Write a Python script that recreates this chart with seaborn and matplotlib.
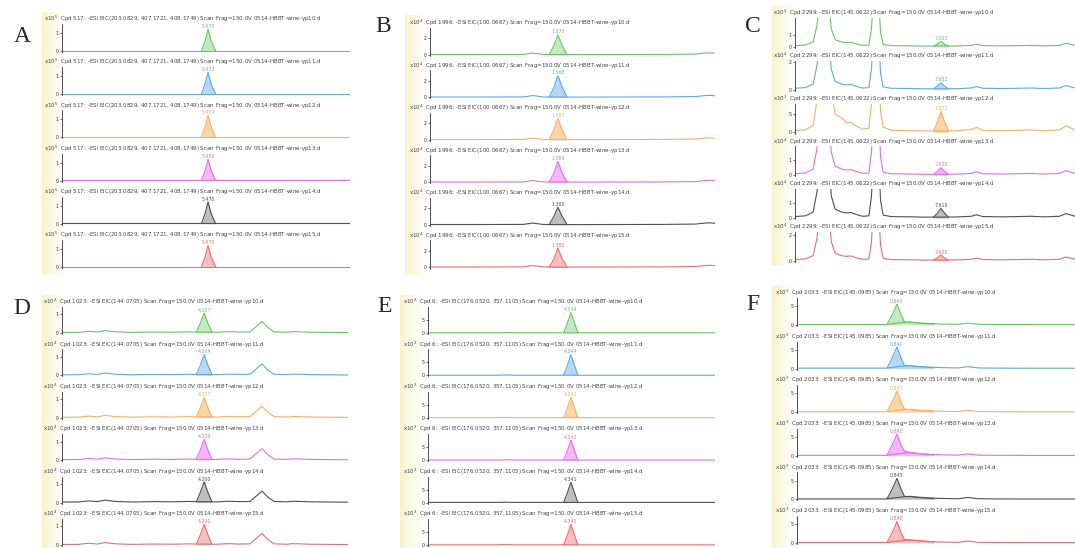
import numpy as np
import matplotlib.pyplot as plt
import seaborn as sns

# ---------------- data ----------------
samples = ["yp10", "yp11", "yp12", "yp13", "yp14", "yp15"]

# Panel A
A_title = "Cpd 517: -ESI EIC(203.0829, 407.1721, 408.1749) Scan Frag=150.0V 0514-HBBT-wine-{}.d"
A_exp = [5, 5, 5, 5, 5, 5]
A_xlim = (0.55, 10.25)
A_bg_x = [0.55, 3.0, 5.2, 5.8, 8.0, 10.25]
A_bg_y = [0.02, 0.02, 0.02, 0.02, 0.02, 0.02]
A_pk_x = [5.25, 5.37, 5.47, 5.57, 5.72]
A_pk_y = [[0.02, 0.57, 1.20, 0.57, 0.02],
          [0.02, 0.58, 1.22, 0.58, 0.02],
          [0.02, 0.59, 1.23, 0.59, 0.02],
          [0.02, 0.56, 1.18, 0.56, 0.02],
          [0.02, 0.58, 1.21, 0.58, 0.02],
          [0.02, 0.57, 1.20, 0.57, 0.02]]
A_ticks = [1, 1, 1, 1, 1, 1]
A_ytop = [1.5, 1.5, 1.5, 1.5, 1.5, 1.5]
A_labels = ["5.470", "5.472", "5.469", "5.469", "5.470", "5.470"]

# Panel B
B_title = "Cpd 1996: -ESI EIC(100.0667) Scan Frag=150.0V 0514-HBBT-wine-{}.d"
B_exp = [4, 4, 4, 4, 4, 4]
B_xlim = (0.0, 3.06)
B_bg_x = [0.0, 0.5, 1.0, 1.06, 1.10, 1.16, 1.22, 1.6, 2.0, 2.5, 2.85, 2.95, 3.0, 3.06]
B_bg_y = [0.05, 0.05, 0.06, 0.15, 0.22, 0.14, 0.05, 0.04, 0.05, 0.06, 0.10, 0.22, 0.25, 0.20]
B_pk_x = [1.28, 1.33, 1.373, 1.42, 1.47]
B_pk_y = [[0.05, 1.1, 2.40, 1.1, 0.05],
          [0.05, 1.2, 2.60, 1.2, 0.05],
          [0.05, 1.2, 2.55, 1.2, 0.05],
          [0.05, 1.1, 2.50, 1.1, 0.05],
          [0.05, 1.0, 2.10, 1.0, 0.05],
          [0.05, 1.0, 2.30, 1.0, 0.05]]
B_ticks = [2, 2, 2, 2, 2, 2]
B_ytop = [3.2, 3.2, 3.2, 3.2, 3.2, 3.2]
B_labels = ["1.373", "1.368", "1.367", "1.369", "1.380", "1.380"]

# Panel C
C_title = "Cpd 2299: -ESI EIC(145.0622) Scan Frag=150.0V 0514-HBBT-wine-{}.d"
C_exp = [4, 4, 3, 4, 4, 4]
C_xlim = (2.0, 12.8)
C_bg_x = [2.0, 2.4, 2.7, 2.85, 2.95, 3.12, 3.3, 3.4, 3.55, 3.8, 4.0, 4.15, 4.35, 4.6,
          4.85, 4.95, 5.05, 5.12, 5.2, 5.3, 5.4, 5.7, 6.5, 7.0, 8.2, 8.8, 9.0, 9.25,
          10.0, 10.6, 11.1, 11.6, 12.2, 12.45, 12.65, 12.8]
C_bg_y = [0.10, 0.15, 0.40, 1.8, 4.0, 12.0, 4.0, 1.5, 0.6, 0.40, 0.35, 0.38, 0.25, 0.12,
          0.15, 1.5, 5.0, 8.0, 5.0, 1.2, 0.20, 0.10, 0.08, 0.06, 0.07, 0.12, 0.22, 0.10,
          0.08, 0.10, 0.12, 0.08, 0.12, 0.30, 0.20, 0.12]
C_bg_y_yp12 = [0.5, 0.7, 2.0, 9.0, 20.0, 60.0, 20.0, 12.0, 5.0, 4.0, 2.6, 2.8, 1.8, 0.9,
               1.2, 8.0, 25.0, 40.0, 25.0, 6.0, 1.5, 0.6, 0.5, 0.4, 0.45, 0.8, 1.4, 0.6,
               0.5, 0.6, 0.7, 0.5, 0.7, 1.8, 1.2, 0.7]
C_pk_x = [7.34, 7.49, 7.63, 7.77, 7.92]
C_pk_y = [[0.06, 0.22, 0.45, 0.22, 0.06],
          [0.06, 0.25, 0.50, 0.25, 0.06],
          [0.40, 2.90, 5.80, 2.90, 0.40],
          [0.06, 0.25, 0.50, 0.25, 0.06],
          [0.06, 0.32, 0.65, 0.32, 0.06],
          [0.06, 0.22, 0.45, 0.22, 0.06]]
C_ticks = [1, 2, 5, 1, 1, 2]
C_ytop = [2.4, 2.1, 8.0, 1.9, 1.95, 2.25]
C_labels = ["7.633", "7.632", "7.622", "7.620", "7.619", "7.620"]

# Panel D
D_title = "Cpd 1023: -ESI EIC(144.0705) Scan Frag=150.0V 0514-HBBT-wine-{}.d"
D_exp = [4, 4, 4, 4, 4, 4]
D_xlim = (1.0, 7.45)
D_bg_x = [1.0, 1.35, 1.61, 1.8, 1.97, 2.2, 2.6, 3.0, 3.5, 3.85, 4.0, 4.5, 4.75, 5.0,
          5.24, 5.38, 5.51, 5.64, 5.78, 6.07, 6.2, 6.37, 6.6, 7.0, 7.45]
D_bg_y = [0.03, 0.03, 0.09, 0.05, 0.13, 0.06, 0.03, 0.05, 0.04, 0.06, 0.05, 0.04, 0.07, 0.05,
          0.06, 0.35, 0.62, 0.30, 0.06, 0.04, 0.07, 0.06, 0.04, 0.03, 0.02]
D_pk_x = [4.03, 4.12, 4.207, 4.29, 4.38]
D_pk_y = [[0.05, 0.53, 1.08, 0.53, 0.05],
          [0.05, 0.55, 1.12, 0.55, 0.05],
          [0.05, 0.54, 1.10, 0.54, 0.05],
          [0.05, 0.55, 1.12, 0.55, 0.05],
          [0.05, 0.55, 1.12, 0.55, 0.05],
          [0.05, 0.55, 1.12, 0.55, 0.05]]
D_ticks = [1, 1, 1, 1, 1, 1]
D_ytop = [1.4, 1.4, 1.4, 1.4, 1.4, 1.4]
D_labels = ["4.207", "4.204", "4.207", "4.209", "4.200", "4.200"]

# Panel E
E_title = "Cpd 6: -ESI EIC(176.0520, 357.1105) Scan Frag=150.0V 0514-HBBT-wine-{}.d"
E_exp = [3, 3, 3, 3, 3, 3]
E_xlim = (0.5, 8.22)
E_bg_x = [0.5, 2.4, 2.6, 2.8, 5.0, 8.22]
E_bg_y = [0.05, 0.05, 0.15, 0.05, 0.05, 0.05]
E_pk_x = [4.15, 4.25, 4.344, 4.44, 4.53]
E_pk_y = [[0.05, 3.8, 7.8, 3.8, 0.05],
          [0.05, 3.9, 8.0, 3.9, 0.05],
          [0.05, 3.8, 7.9, 3.8, 0.05],
          [0.05, 3.7, 7.7, 3.7, 0.05],
          [0.05, 3.8, 7.8, 3.8, 0.05],
          [0.05, 3.8, 7.9, 3.8, 0.05]]
E_ticks = [5, 5, 5, 5, 5, 5]
E_ytop = [10.0, 10.0, 10.0, 10.0, 10.0, 10.0]
E_labels = ["4.344", "4.344", "4.341", "4.342", "4.341", "4.341"]

# Panel F
F_title = "Cpd 2033: -ESI EIC(145.0985) Scan Frag=150.0V 0514-HBBT-wine-{}.d"
F_exp = [3, 3, 3, 3, 3, 3]
F_xlim = (0.0, 2.33)
F_bg_x = [0.0, 0.5, 0.74, 0.9, 0.95, 1.0, 1.1, 1.2, 1.35, 1.43, 1.52, 1.7, 2.0, 2.33]
F_bg_y = [0.1, 0.1, 0.1, 0.7, 0.8, 0.6, 0.4, 0.25, 0.15, 0.5, 0.15, 0.1, 0.08, 0.08]
F_pk_x = [0.754, 0.80, 0.838, 0.87, 0.90, 0.95, 1.05, 1.15]
F_pk_y = [[0.1, 2.9, 5.6, 2.9, 0.8, 0.7, 0.4, 0.2],
          [0.1, 3.0, 5.8, 3.0, 0.8, 0.7, 0.4, 0.2],
          [0.1, 2.9, 5.7, 2.9, 0.8, 0.6, 0.3, 0.2],
          [0.1, 3.0, 5.8, 3.0, 1.2, 0.9, 0.5, 0.2],
          [0.1, 2.9, 5.6, 2.9, 0.8, 0.7, 0.4, 0.2],
          [0.1, 2.9, 5.7, 2.9, 0.9, 0.8, 0.5, 0.2]]
F_ticks = [5, 5, 5, 5, 5, 5]
F_ytop = [7.2, 7.2, 7.2, 7.2, 7.2, 7.2]
F_labels = ["0.840", "0.840", "0.847", "0.840", "0.845", "0.840"]

# trace colours per sample
line_colors = ["#6cc26c", "#5fa8e6", "#f0b06a", "#e070e0", "#505050", "#e66e6e"]
fill_colors = ["#8fdc8a", "#7ab8f0", "#f7b35e", "#f07cf0", "#8c8c8c", "#f08a8a"]

# ---------------- layout (pixels) ----------------
W, H = 1075, 548
sns.set_theme(style="white")
plt.rcParams['font.family'] = ['DejaVu Sans']
fig = plt.figure(figsize=(W / 100, H / 100), dpi=100)


def px_axes(x0, y_top, w, h):
    return fig.add_axes([x0 / W, 1 - (y_top + h) / H, w / W, h / H])


panels = [
    dict(letter="A", lx=22, ly=36, hx=44, ax0=62, ax1=350, h1=19, off=32, pitch=43.2,
         strip=(42, 12, 275), title=A_title, exp=A_exp, xlim=A_xlim,
         bg_x=A_bg_x, bg_rows=[A_bg_y] * 6, pk_x=A_pk_x, pk_y=A_pk_y,
         ticks=A_ticks, ytop=A_ytop, labels=A_labels),
    dict(letter="B", lx=383, ly=27, hx=409, ax0=430, ax1=715, h1=23, off=32, pitch=42.5,
         strip=(405, 15, 275), title=B_title, exp=B_exp, xlim=B_xlim,
         bg_x=B_bg_x, bg_rows=[B_bg_y] * 6, pk_x=B_pk_x, pk_y=B_pk_y,
         ticks=B_ticks, ytop=B_ytop, labels=B_labels),
    dict(letter="C", lx=753, ly=27, hx=773, ax0=795, ax1=1075, h1=13, off=34, pitch=42.8,
         strip=(772, 5, 265), title=C_title, exp=C_exp, xlim=C_xlim,
         bg_x=C_bg_x, bg_rows=[C_bg_y, C_bg_y, C_bg_y_yp12, C_bg_y, C_bg_y, C_bg_y],
         pk_x=C_pk_x, pk_y=C_pk_y, ticks=C_ticks, ytop=C_ytop, labels=C_labels),
    dict(letter="D", lx=22, ly=308, hx=43, ax0=62, ax1=348, h1=302, off=31, pitch=42.4,
         strip=(42, 295, 548), title=D_title, exp=D_exp, xlim=D_xlim,
         bg_x=D_bg_x, bg_rows=[D_bg_y] * 6, pk_x=D_pk_x, pk_y=D_pk_y,
         ticks=D_ticks, ytop=D_ytop, labels=D_labels),
    dict(letter="E", lx=385, ly=307, hx=403, ax0=428, ax1=715, h1=302, off=31, pitch=42.4,
         strip=(400, 295, 548), title=E_title, exp=E_exp, xlim=E_xlim,
         bg_x=E_bg_x, bg_rows=[E_bg_y] * 6, pk_x=E_pk_x, pk_y=E_pk_y,
         ticks=E_ticks, ytop=E_ytop, labels=E_labels),
    dict(letter="F", lx=753, ly=305, hx=775, ax0=797, ax1=1075, h1=293, off=32, pitch=43.6,
         strip=(772, 285, 548), title=F_title, exp=F_exp, xlim=F_xlim,
         bg_x=F_bg_x, bg_rows=[F_bg_y] * 6, pk_x=F_pk_x, pk_y=F_pk_y,
         ticks=F_ticks, ytop=F_ytop, labels=F_labels),
]

# pale yellow strip fading to white
grad = np.ones((2, 64, 3))
fade = np.linspace(0, 1, 64) ** 0.8
yellow = np.array([0.97, 0.95, 0.78])
for k in range(3):
    grad[:, :, k] = yellow[k] + (1 - yellow[k]) * fade

for p in panels:
    sx, st, sb = p["strip"]
    bg = px_axes(sx, st, 24, sb - st)
    bg.imshow(grad, aspect="auto", extent=[0, 1, 0, 1])
    bg.set_axis_off()

    fig.text(p["lx"] / W, 1 - p["ly"] / H, p["letter"], fontsize=17,
             family="Liberation Serif", ha="center", va="center")

    for i in range(6):
        hy = p["h1"] + i * p["pitch"]
        top = hy + 5
        base = hy + p["off"]
        fig.text(p["hx"] / W, 1 - hy / H,
                 "x10$^{%d}$  " % p["exp"][i] + p["title"].format(samples[i]),
                 fontsize=4.0, color="#444444", va="center", ha="left")

        ax = px_axes(p["ax0"], top, p["ax1"] - p["ax0"], base - top + 1)
        ax.set_facecolor("none")
        yt = p["ytop"][i]
        sns.lineplot(x=p["bg_x"], y=p["bg_rows"][i], ax=ax, color=line_colors[i], lw=0.8)
        sns.lineplot(x=p["pk_x"], y=p["pk_y"][i], ax=ax, color=line_colors[i], lw=0.8)
        ax.fill_between(p["pk_x"], p["pk_y"][i], 0, color=fill_colors[i], alpha=0.55, lw=0)
        apex = int(np.argmax(p["pk_y"][i]))
        ax.text(p["pk_x"][apex], p["pk_y"][i][apex] + yt * 0.01, p["labels"][i],
                fontsize=3.4, color=line_colors[i], ha="center", va="bottom", clip_on=False)

        ax.set_xlim(*p["xlim"])
        ax.set_ylim(-yt * 0.04, yt)
        ax.set_xticks([])
        ax.set_yticks([0, p["ticks"][i]])
        ax.set_yticklabels(["0", str(p["ticks"][i])])
        ax.tick_params(axis="y", left=True, length=1.5, width=0.5, labelsize=3.4,
                       pad=1, colors="#333333")
        ax.set_xlabel("")
        ax.set_ylabel("")
        sns.despine(ax=ax, bottom=True)
        ax.spines["left"].set_color("#333333")
        ax.spines["left"].set_linewidth(0.6)

fig.savefig("out.png", dpi=100, facecolor="white")
